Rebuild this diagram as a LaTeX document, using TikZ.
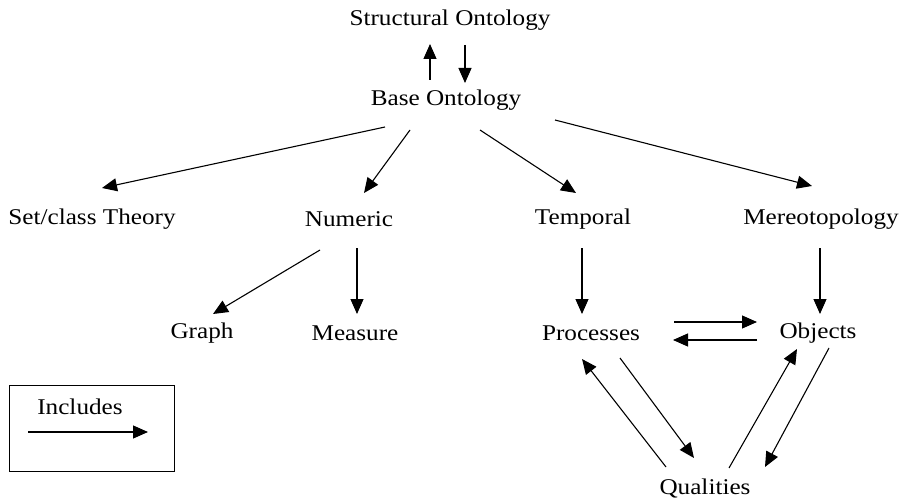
\documentclass[tikz,border=0pt]{standalone}
\usepackage{fontspec}
\setmainfont{Liberation Serif}[FakeStretch=1.12]
\usetikzlibrary{arrows.meta}
\begin{document}
\begin{tikzpicture}[x=1pt,y=-1pt,
  lbl/.style={inner sep=0pt,font=\fontsize{22.5}{26}\selectfont},
  inc/.style={line width=1.1pt,-{Triangle[length=15pt,width=13pt]}}]
\useasboundingbox (0,0) rectangle (900,500);
% labels
\node[lbl] (struct) at (450,20) {Structural Ontology};
\node[lbl] (base) at (446,100) {Base Ontology};
\node[lbl] (set) at (92,219) {Set/class Theory};
\node[lbl] (num) at (349,219) {Numeric};
\node[lbl] (temp) at (583,219) {Temporal};
\node[lbl] (mereo) at (821,219) {Mereotopology};
\node[lbl] (graph) at (202,333) {Graph};
\node[lbl] (meas) at (355,333) {Measure};
\node[lbl] (proc) at (591,333) {Processes};
\node[lbl] (obj) at (818,333) {Objects};
\node[lbl] (qual) at (705,489) {Qualities};
% legend
\node[draw,line width=1pt,minimum width=165pt,minimum height=86pt,inner sep=0pt] (legend) at (92,428) {};
\node[lbl] (inclbl) at (80,407) {Includes};
\coordinate (l1) at (28,432); \coordinate (l2) at (148,432);
\draw[inc] (l1) -- (l2);
% endpoints
\coordinate (su1) at (430,80); \coordinate (su2) at (430,44);
\coordinate (sd1) at (465,45); \coordinate (sd2) at (465,83);
\coordinate (bs1) at (385,127); \coordinate (bs2) at (102,188);
\coordinate (bn1) at (410,130); \coordinate (bn2) at (364,193);
\coordinate (bt1) at (480,130); \coordinate (bt2) at (576,193);
\coordinate (bm1) at (555,120); \coordinate (bm2) at (812,186);
\coordinate (ng1) at (320,250); \coordinate (ng2) at (213,314);
\coordinate (nm1) at (357,248); \coordinate (nm2) at (357,314);
\coordinate (tp1) at (582,248); \coordinate (tp2) at (582,314);
\coordinate (mo1) at (820,248); \coordinate (mo2) at (820,314);
\coordinate (po1) at (674,322); \coordinate (po2) at (757,322);
\coordinate (op1) at (757,340); \coordinate (op2) at (673,340);
\coordinate (pq1) at (620,358); \coordinate (pq2) at (694,458);
\coordinate (qp1) at (666,467); \coordinate (qp2) at (582,359);
\coordinate (qo1) at (729,468); \coordinate (qo2) at (797,349);
\coordinate (oq1) at (829,348); \coordinate (oq2) at (765,467);
% connectors
\draw[inc] (su1) -- (su2);
\draw[inc] (sd1) -- (sd2);
\draw[inc] (bs1) -- (bs2);
\draw[inc] (bn1) -- (bn2);
\draw[inc] (bt1) -- (bt2);
\draw[inc] (bm1) -- (bm2);
\draw[inc] (ng1) -- (ng2);
\draw[inc] (nm1) -- (nm2);
\draw[inc] (tp1) -- (tp2);
\draw[inc] (mo1) -- (mo2);
\draw[inc] (po1) -- (po2);
\draw[inc] (op1) -- (op2);
\draw[inc] (pq1) -- (pq2);
\draw[inc] (qp1) -- (qp2);
\draw[inc] (qo1) -- (qo2);
\draw[inc] (oq1) -- (oq2);
\end{tikzpicture}
\end{document}
